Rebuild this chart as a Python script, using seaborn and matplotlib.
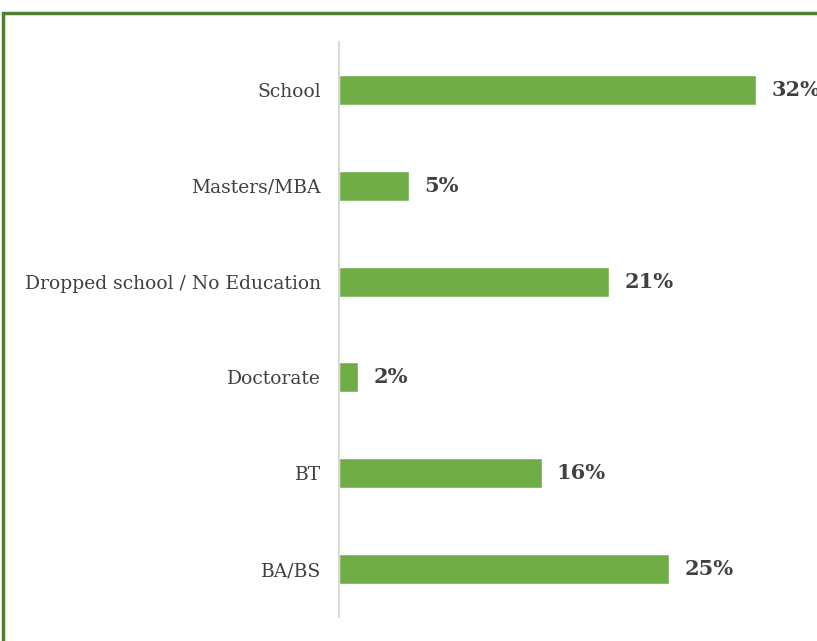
import matplotlib
matplotlib.use("Agg")
import matplotlib.pyplot as plt
import seaborn as sns
from matplotlib.patches import Rectangle

categories = ["School", "Masters/MBA", "Dropped school / No Education", "Doctorate", "BT", "BA/BS"]
shares = [32.1, 5.4, 20.8, 1.5, 15.6, 25.4]

sns.set_style("white")
plt.rcParams['font.family'] = ['DejaVu Serif']

fig = plt.figure(figsize=(8.17, 6.41), dpi=100)
ax = fig.add_axes([339 / 817, 24 / 641, 478 / 817, 575 / 641])

sns.barplot(x=shares, y=categories, orient="h", color="#70AD47", width=0.3125,
            saturation=1, ax=ax)
ax.set_xlim(0, 36.8)
ax.set_ylim(5.5, -0.5)

ax.bar_label(ax.containers[0], labels=[f"{v:.0f}%" for v in shares], padding=11,
             fontsize=15, fontweight="bold", color="#404040")

for side in ["top", "right", "bottom"]:
    ax.spines[side].set_visible(False)
ax.spines["left"].set_color("#d9d9d9")
ax.spines["left"].set_linewidth(1.5)
ax.set_xticks([])
ax.tick_params(axis="y", length=0, pad=13, labelsize=13.5, labelcolor="#404040")
ax.set_xlabel("")
ax.set_ylabel("")

# green frame of the slide box
fig.patches.append(Rectangle((3.5 / 817, -0.2), 1.5, 1.2 - 12.5 / 641, transform=fig.transFigure,
                             fill=False, edgecolor="#507E32", linewidth=2.5))

fig.savefig("out.png", dpi=100)
